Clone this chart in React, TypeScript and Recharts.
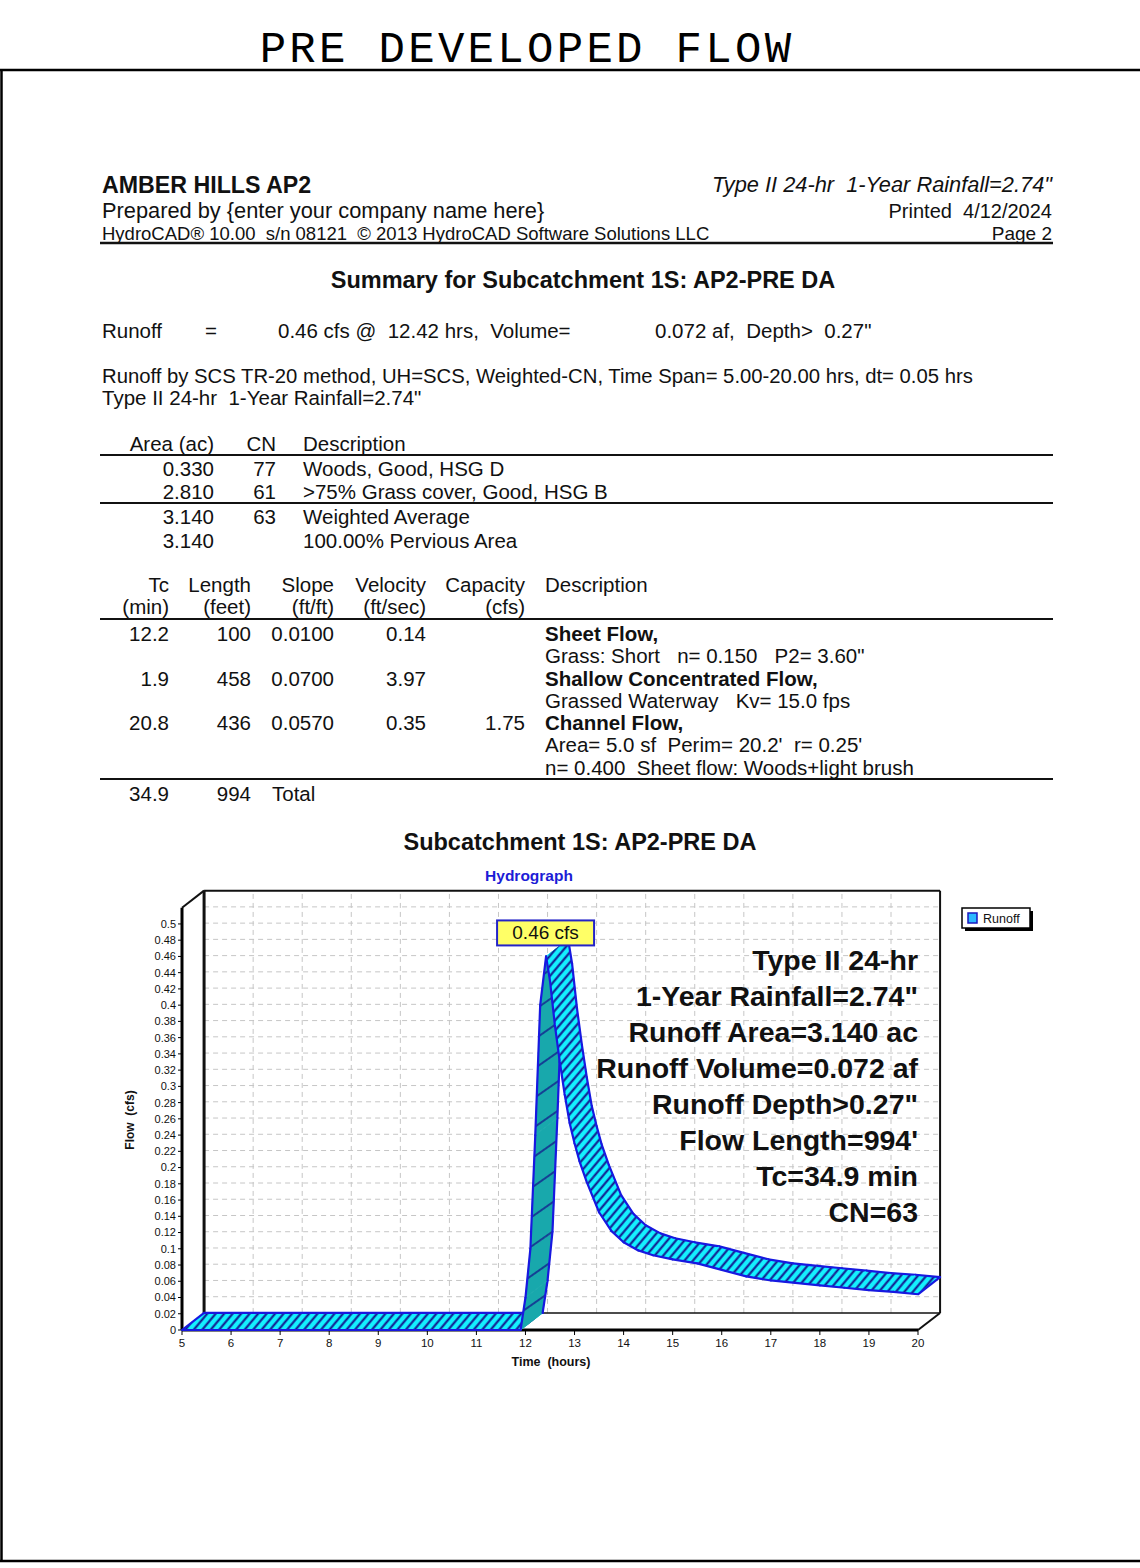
import React from 'react';
import { ComposedChart, Line, XAxis, YAxis, ReferenceLine } from 'recharts';

// hydrograph (front edge of the 3D ribbon)
const TIME_HRS = [5, 11.9, 12.0, 12.1, 12.2, 12.3, 12.42, 12.5, 12.6, 12.7, 12.8, 12.9, 13.0, 13.1, 13.25, 13.5, 13.75, 14.0, 14.3, 14.6, 15.0, 15.5, 16.0, 16.5, 17.0, 17.5, 18.0, 18.5, 19.0, 19.5, 20.0];
const RUNOFF_CFS = [0, 0, 0.04, 0.1, 0.24, 0.4, 0.46, 0.43, 0.375, 0.33, 0.29, 0.255, 0.23, 0.208, 0.182, 0.145, 0.122, 0.108, 0.098, 0.092, 0.087, 0.082, 0.074, 0.066, 0.061, 0.058, 0.055, 0.052, 0.049, 0.047, 0.044];

const X_TICKS = [5, 6, 7, 8, 9, 10, 11, 12, 13, 14, 15, 16, 17, 18, 19, 20];
const Y_TICKS = [0, 0.02, 0.04, 0.06, 0.08, 0.1, 0.12, 0.14, 0.16, 0.18, 0.2, 0.22, 0.24, 0.26, 0.28, 0.3, 0.32, 0.34, 0.36, 0.38, 0.4, 0.42, 0.44, 0.46, 0.48, 0.5];
const Y_MAX = 0.52;

// 3D depth of the plot box, in data units
const DEPTH_X = 0.45;
const DEPTH_Y = 0.021;

const ANNOTATIONS = [
  'Type II 24-hr',
  '1-Year Rainfall=2.74"',
  'Runoff Area=3.140 ac',
  'Runoff Volume=0.072 af',
  'Runoff Depth>0.27"',
  "Flow Length=994'",
  'Tc=34.9 min',
  'CN=63',
];

const AREA_ROWS = [
  { area: '0.330', cn: '77', desc: 'Woods, Good, HSG D' },
  { area: '2.810', cn: '61', desc: '>75% Grass cover, Good, HSG B' },
];
const AREA_TOTALS = [
  { area: '3.140', cn: '63', desc: 'Weighted Average' },
  { area: '3.140', cn: '', desc: '100.00% Pervious Area' },
];

const TC_ROWS = [
  { tc: '12.2', len: '100', slope: '0.0100', vel: '0.14', cap: '', desc: ['Sheet Flow,', 'Grass: Short   n= 0.150   P2= 3.60"'] },
  { tc: '1.9', len: '458', slope: '0.0700', vel: '3.97', cap: '', desc: ['Shallow Concentrated Flow,', 'Grassed Waterway   Kv= 15.0 fps'] },
  { tc: '20.8', len: '436', slope: '0.0570', vel: '0.35', cap: '1.75', desc: ['Channel Flow,', "Area= 5.0 sf  Perim= 20.2'  r= 0.25'", 'n= 0.400  Sheet flow: Woods+light brush'] },
];

const chartData = TIME_HRS.map((t, i) => ({ t, q: RUNOFF_CFS[i] }));
const PEAK = RUNOFF_CFS.indexOf(Math.max(...RUNOFF_CFS));

const FONT = "'Liberation Sans', Arial, sans-serif";
const BLUE = '#1818e0';

const Ribbon = ({ pts }: { pts: { x: number; y: number }[] }) => {
  const n = pts.length;
  const pxPerHr = (pts[n - 1].x - pts[0].x) / (TIME_HRS[n - 1] - TIME_HRS[0]);
  const pxPerCfs = (pts[0].y - pts[PEAK].y) / (RUNOFF_CFS[PEAK] - RUNOFF_CFS[0]);
  const ox = DEPTH_X * pxPerHr;
  const oy = -DEPTH_Y * pxPerCfs;
  const segs = [];
  for (let i = 0; i < n - 1; i++) {
    const a = pts[i];
    const b = pts[i + 1];
    const fill = RUNOFF_CFS[i + 1] > RUNOFF_CFS[i] ? 'url(#hatchTeal)' : 'url(#hatchCyan)';
    segs.push(
      <g key={i}>
        <polygon
          points={`${a.x},${a.y} ${b.x},${b.y} ${b.x + ox},${b.y + oy} ${a.x + ox},${a.y + oy}`}
          fill={fill}
          stroke={fill}
          strokeWidth={0.8}
        />
        <line x1={a.x} y1={a.y} x2={b.x} y2={b.y} stroke={BLUE} strokeWidth={2.2} strokeLinecap="round" />
        <line x1={a.x + ox} y1={a.y + oy} x2={b.x + ox} y2={b.y + oy} stroke={BLUE} strokeWidth={2.2} strokeLinecap="round" />
      </g>
    );
  }
  const p = pts[PEAK];
  const last = pts[n - 1];
  return (
    <g>
      <defs>
        <pattern id="hatchCyan" patternUnits="userSpaceOnUse" width={6.5} height={6.5} patternTransform="rotate(40)">
          <rect width={6.5} height={6.5} fill="#14f0ff" />
          <line x1={3.25} y1={0} x2={3.25} y2={6.5} stroke="#12128a" strokeWidth={2} />
        </pattern>
        <pattern id="hatchTeal" patternUnits="userSpaceOnUse" width={24} height={24} patternTransform="rotate(55)">
          <rect width={24} height={24} fill="#18a8ac" />
          <line x1={12} y1={0} x2={12} y2={24} stroke="#12128a" strokeWidth={1.4} />
        </pattern>
      </defs>
      {segs}
      <line x1={pts[0].x} y1={pts[0].y} x2={pts[0].x + ox} y2={pts[0].y + oy} stroke={BLUE} strokeWidth={2.2} />
      <line x1={last.x} y1={last.y} x2={last.x + ox} y2={last.y + oy} stroke={BLUE} strokeWidth={2.2} />
      <rect x={p.x - 49} y={p.y - 36} width={97} height={25} fill="#ffff66" stroke="#2424c8" strokeWidth={2} />
      <text x={p.x - 0.5} y={p.y - 17} textAnchor="middle" fontFamily={FONT} fontSize={19} fill="#111">
        {`${RUNOFF_CFS[PEAK]} cfs`}
      </text>
    </g>
  );
};

const HydrographChart = () => {
  const screen: { x: number; y: number }[] = [];
  const renderDot = (props: any) => {
    const { cx, cy, index } = props;
    screen[index] = { x: cx, y: cy };
    if (index !== TIME_HRS.length - 1) return <g key={`pt-${index}`} />;
    return <Ribbon key="ribbon" pts={screen.slice()} />;
  };

  const box = (x1: number, y1: number, x2: number, y2: number, w: number, key: string) => (
    <ReferenceLine
      key={key}
      segment={[{ x: x1, y: y1 }, { x: x2, y: y2 }]}
      stroke="#111"
      strokeWidth={w}
      ifOverflow="visible"
    />
  );

  return (
    <ComposedChart width={880} height={540} data={chartData} margin={{ top: 47.7, right: 62, bottom: 40, left: 22 }}>
      {Y_TICKS.filter((v) => v > 0).map((v) => (
        <ReferenceLine
          key={`gy${v}`}
          segment={[{ x: 5 + DEPTH_X, y: v + DEPTH_Y }, { x: 20 + DEPTH_X, y: v + DEPTH_Y }]}
          stroke="#c6c6c6"
          strokeDasharray="5 4"
          ifOverflow="visible"
        />
      ))}
      {X_TICKS.slice(1, -1).map((t) => (
        <ReferenceLine
          key={`gx${t}`}
          segment={[{ x: t + DEPTH_X, y: DEPTH_Y }, { x: t + DEPTH_X, y: Y_MAX + DEPTH_Y }]}
          stroke="#c6c6c6"
          strokeDasharray="5 4"
          ifOverflow="visible"
        />
      ))}
      {box(5 + DEPTH_X, Y_MAX + DEPTH_Y, 20 + DEPTH_X, Y_MAX + DEPTH_Y, 2, 'bt')}
      {box(5 + DEPTH_X, DEPTH_Y, 5 + DEPTH_X, Y_MAX + DEPTH_Y, 3, 'bl')}
      {box(20 + DEPTH_X, DEPTH_Y, 20 + DEPTH_X, Y_MAX + DEPTH_Y, 2, 'br')}
      {box(5 + DEPTH_X, DEPTH_Y, 20 + DEPTH_X, DEPTH_Y, 1.5, 'bb')}
      {box(5, Y_MAX, 5 + DEPTH_X, Y_MAX + DEPTH_Y, 2, 'dtl')}
      {box(20, 0, 20 + DEPTH_X, DEPTH_Y, 2, 'dbr')}
      <XAxis
        dataKey="t"
        type="number"
        domain={[5, 20]}
        ticks={X_TICKS}
        interval={0}
        height={30}
        tickSize={5}
        tickMargin={4}
        axisLine={{ stroke: '#000', strokeWidth: 3 }}
        tickLine={{ stroke: '#000' }}
        tick={{ fontSize: 11.5, fill: '#111', fontFamily: FONT }}
      />
      <YAxis
        type="number"
        domain={[0, Y_MAX]}
        ticks={Y_TICKS}
        interval={0}
        width={60}
        tickSize={4}
        tickMargin={2}
        tickFormatter={(v) => String(v)}
        axisLine={{ stroke: '#000', strokeWidth: 3 }}
        tickLine={{ stroke: '#000' }}
        tick={{ fontSize: 11, fill: '#111', fontFamily: FONT }}
      />
      <Line dataKey="q" stroke="none" dot={renderDot} activeDot={false} isAnimationActive={false} />
    </ComposedChart>
  );
};

const T = ({ x, y, children, anchor = 'start', size = 20.5, bold = false, italic = false, fill = '#111' }: any) => (
  <text
    x={x}
    y={y}
    textAnchor={anchor}
    fontFamily={FONT}
    fontSize={size}
    fontWeight={bold ? 'bold' : 'normal'}
    fontStyle={italic ? 'italic' : 'normal'}
    fill={fill}
    style={{ whiteSpace: 'pre' }}
  >
    {children}
  </text>
);

const HLine = ({ y, w = 1.8 }: { y: number; w?: number }) => (
  <line x1={100} y1={y} x2={1053} y2={y} stroke="#111" strokeWidth={w} />
);

export default function App() {
  const tcBase = [641, 685.5, 730];
  return (
    <div style={{ position: 'absolute', left: 0, top: 0, width: 1140, height: 1568, background: '#fff', overflow: 'hidden' }}>
      <div style={{ position: 'absolute', left: 100, top: 860 }}>
        <HydrographChart />
      </div>
      <svg width={1140} height={1568} style={{ position: 'absolute', left: 0, top: 0, pointerEvents: 'none' }}>
        <text x={527} y={62} textAnchor="middle" fontFamily="'Liberation Mono', 'DejaVu Sans Mono', monospace" fontSize={44} letterSpacing={3.3} fill="#000">
          PRE DEVELOPED FLOW
        </text>
        <line x1={0} y1={70} x2={1140} y2={70} stroke="#000" strokeWidth={2.5} />
        <line x1={1.5} y1={70} x2={1.5} y2={1562} stroke="#000" strokeWidth={2.5} />
        <line x1={0} y1={1561} x2={1140} y2={1561} stroke="#000" strokeWidth={2.5} />

        <T x={102} y={193} size={23.2} bold>AMBER HILLS AP2</T>
        <T x={1052} y={192} anchor="end" size={21.8} italic>{'Type II 24-hr  1-Year Rainfall=2.74"'}</T>
        <T x={102} y={218} size={21.8}>{'Prepared by {enter your company name here}'}</T>
        <T x={1052} y={218} anchor="end" size={20}>{'Printed  4/12/2024'}</T>
        <T x={102} y={240} size={18.5}>{'HydroCAD® 10.00  s/n 08121  © 2013 HydroCAD Software Solutions LLC'}</T>
        <T x={1052} y={240} anchor="end" size={19}>Page 2</T>
        <HLine y={243} w={2.5} />

        <T x={583} y={288} anchor="middle" size={23.5} bold>Summary for Subcatchment 1S: AP2-PRE DA</T>
        <T x={102} y={338}>Runoff</T>
        <T x={205} y={338}>=</T>
        <T x={278} y={338}>{'0.46 cfs @  12.42 hrs,  Volume='}</T>
        <T x={655} y={338}>{'0.072 af,  Depth>  0.27"'}</T>
        <T x={102} y={383} size={20.3}>{'Runoff by SCS TR-20 method, UH=SCS, Weighted-CN, Time Span= 5.00-20.00 hrs, dt= 0.05 hrs'}</T>
        <T x={102} y={405}>{'Type II 24-hr  1-Year Rainfall=2.74"'}</T>

        <T x={214} y={451} anchor="end">Area (ac)</T>
        <T x={276} y={451} anchor="end">CN</T>
        <T x={303} y={451}>Description</T>
        <HLine y={455} />
        {AREA_ROWS.map((r, i) => (
          <g key={`a${i}`}>
            <T x={214} y={476 + i * 23} anchor="end">{r.area}</T>
            <T x={276} y={476 + i * 23} anchor="end">{r.cn}</T>
            <T x={303} y={476 + i * 23}>{r.desc}</T>
          </g>
        ))}
        <HLine y={503} />
        {AREA_TOTALS.map((r, i) => (
          <g key={`at${i}`}>
            <T x={214} y={524 + i * 24} anchor="end">{r.area}</T>
            <T x={276} y={524 + i * 24} anchor="end">{r.cn}</T>
            <T x={303} y={524 + i * 24}>{r.desc}</T>
          </g>
        ))}

        <T x={169} y={592} anchor="end">Tc</T>
        <T x={251} y={592} anchor="end">Length</T>
        <T x={334} y={592} anchor="end">Slope</T>
        <T x={426} y={592} anchor="end">Velocity</T>
        <T x={525} y={592} anchor="end">Capacity</T>
        <T x={545} y={592}>Description</T>
        <T x={169} y={614} anchor="end">(min)</T>
        <T x={251} y={614} anchor="end">(feet)</T>
        <T x={334} y={614} anchor="end">(ft/ft)</T>
        <T x={426} y={614} anchor="end">(ft/sec)</T>
        <T x={525} y={614} anchor="end">(cfs)</T>
        <HLine y={619} />
        {TC_ROWS.map((r, i) => (
          <g key={`tc${i}`}>
            <T x={169} y={tcBase[i]} anchor="end">{r.tc}</T>
            <T x={251} y={tcBase[i]} anchor="end">{r.len}</T>
            <T x={334} y={tcBase[i]} anchor="end">{r.slope}</T>
            <T x={426} y={tcBase[i]} anchor="end">{r.vel}</T>
            <T x={525} y={tcBase[i]} anchor="end">{r.cap}</T>
            {r.desc.map((d, j) => (
              <T key={j} x={545} y={tcBase[i] + j * 22.3} bold={j === 0}>{d}</T>
            ))}
          </g>
        ))}
        <HLine y={779} />
        <T x={169} y={801} anchor="end">34.9</T>
        <T x={251} y={801} anchor="end">994</T>
        <T x={272} y={801}>Total</T>

        <T x={580} y={850} anchor="middle" size={23.5} bold>Subcatchment 1S: AP2-PRE DA</T>
        <T x={529} y={881} anchor="middle" size={15.5} bold fill="#1c1cd6">Hydrograph</T>

        {ANNOTATIONS.map((s, i) => (
          <T key={s} x={918} y={970 + i * 36} anchor="end" size={28.5} bold>{s}</T>
        ))}

        <rect x={965} y={911} width={68} height={20} fill="#000" />
        <rect x={962} y={908} width={68} height={20} fill="#fff" stroke="#000" strokeWidth={1.5} />
        <rect x={968} y={913} width={9} height={10} fill="#2bb8ff" stroke="#1818c0" strokeWidth={1.5} />
        <T x={983} y={923} size={12.5}>Runoff</T>

        <g transform="translate(134,1120) rotate(-90)">
          <T x={0} y={0} anchor="middle" size={12} bold>{'Flow  (cfs)'}</T>
        </g>
        <T x={551} y={1366} anchor="middle" size={12.5} bold>{'Time  (hours)'}</T>
      </svg>
    </div>
  );
}
